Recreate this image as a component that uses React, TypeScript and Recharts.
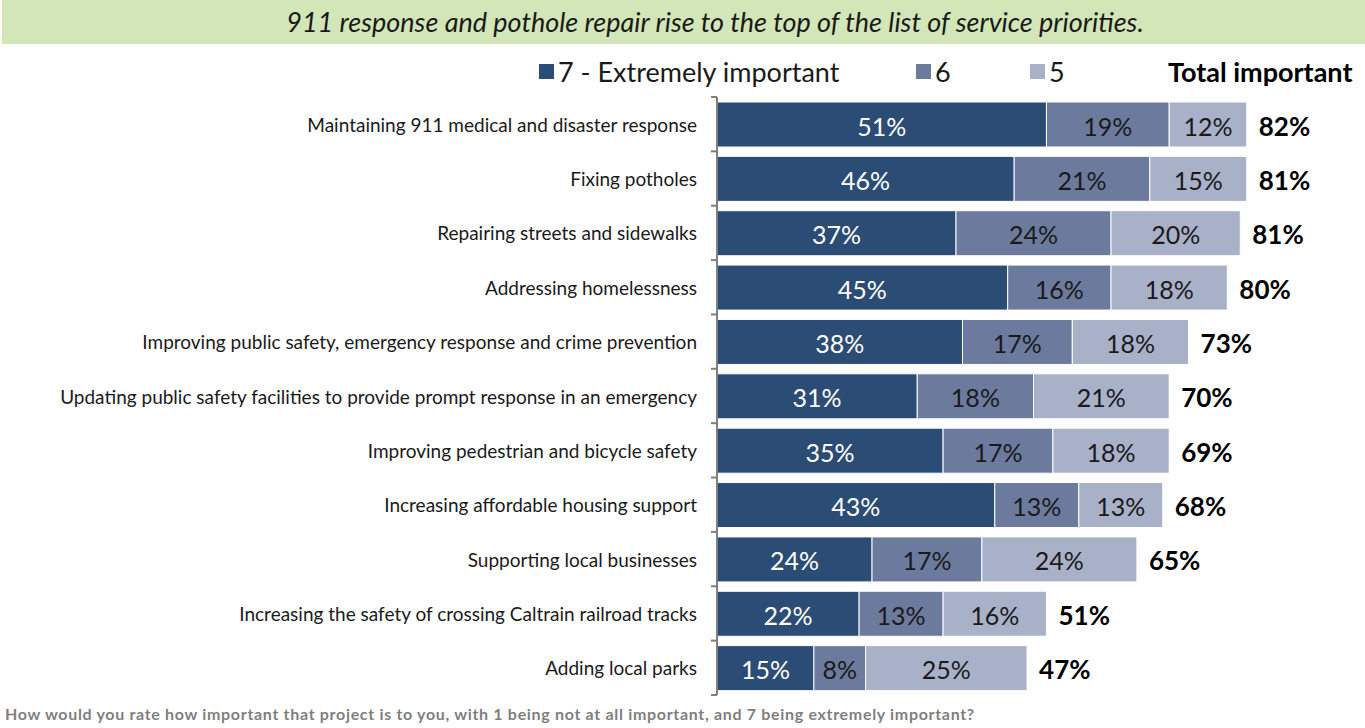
import React from "react";
import { BarChart, Bar, XAxis, YAxis, LabelList } from "recharts";

const categories = [
  "Maintaining 911 medical and disaster response",
  "Fixing potholes",
  "Repairing streets and sidewalks",
  "Addressing homelessness",
  "Improving public safety, emergency response and crime prevention",
  "Updating public safety facilities to provide prompt response in an emergency",
  "Improving pedestrian and bicycle safety",
  "Increasing affordable housing support",
  "Supporting local businesses",
  "Increasing the safety of crossing Caltrain railroad tracks",
  "Adding local parks",
];
const extremely = [51, 46, 37, 45, 38, 31, 35, 43, 24, 22, 15];
const six = [19, 21, 24, 16, 17, 18, 17, 13, 17, 13, 8];
const five = [12, 15, 20, 18, 18, 21, 18, 13, 24, 16, 25];
const totals = [82, 81, 81, 80, 73, 70, 69, 68, 65, 51, 47];

const data = categories.map((name, i) => ({
  name,
  s7: extremely[i],
  s6: six[i],
  s5: five[i],
  total: totals[i],
}));

const C7 = "#2b4c74";
const C6 = "#6c7b9d";
const C5 = "#a9b1c9";
const FONT = "Lato, 'Open Sans', sans-serif";

const W = 1365;
const H = 728;
const TOP = 97;
const BOTTOM = 33;
const AXIS_X = 717;
const PLOT_H = H - TOP - BOTTOM;
const BAND = PLOT_H / categories.length;

const YTick = (props: any) => {
  const { y, payload, index } = props;
  const ax = AXIS_X;
  return (
    <g>
      <line x1={ax - 6} x2={ax} y1={y - BAND / 2} y2={y - BAND / 2} stroke="#7f7f7f" strokeWidth={2} />
      {index === categories.length - 1 && (
        <line x1={ax - 6} x2={ax} y1={y + BAND / 2} y2={y + BAND / 2} stroke="#7f7f7f" strokeWidth={2} />
      )}
      <text
        x={ax - 20}
        y={y}
        textAnchor="end"
        dominantBaseline="central"
        fontFamily={FONT}
        fontSize={19}
        fill="#1a1a1a"
      >
        {payload.value}
      </text>
    </g>
  );
};

const pctLabel = (color: string) => (props: any) => {
  const { x, y, width, height, value } = props;
  return (
    <text
      x={x + width / 2}
      y={y + height / 2 + 1}
      textAnchor="middle"
      dominantBaseline="central"
      fontFamily={FONT}
      fontSize={25}
      fill={color}
    >
      {value}%
    </text>
  );
};

const totalLabel = (props: any) => {
  const { x, y, width, height, value } = props;
  return (
    <text
      x={x + width + 12}
      y={y + height / 2 + 1}
      textAnchor="start"
      dominantBaseline="central"
      fontFamily={FONT}
      fontSize={26}
      fontWeight="bold"
      fill="#000"
    >
      {value}%
    </text>
  );
};

const LegendItem = ({ color, label, left }: { color: string; label: string; left: number }) => (
  <div style={{ position: "absolute", left, top: 54, height: 34, display: "flex", alignItems: "center" }}>
    <div style={{ width: 15, height: 15, background: color, marginRight: 4 }} />
    <span style={{ fontFamily: FONT, fontSize: 27, color: "#1a1a1a" }}>{label}</span>
  </div>
);

export default function App() {
  return (
    <div style={{ position: "absolute", left: 0, top: 0, width: W, height: H, background: "#fff", overflow: "hidden" }}>
      <div
        style={{
          position: "absolute",
          left: 2,
          top: 0,
          width: W - 2,
          height: 44,
          background: "#d3e6b8",
          display: "flex",
          alignItems: "center",
          justifyContent: "center",
          fontFamily: FONT,
          fontStyle: "italic",
          fontSize: 27,
          color: "#1a1a1a",
        }}
      >
        <span style={{ marginLeft: 63, marginTop: -2 }}>911 response and pothole repair rise to the top of the list of service priorities.</span>
      </div>
      <LegendItem color={C7} label="7 - Extremely important" left={539} />
      <LegendItem color={C6} label="6" left={916} />
      <LegendItem color={C5} label="5" left={1030} />
      <div
        style={{
          position: "absolute",
          left: 1168,
          top: 54,
          height: 34,
          display: "flex",
          alignItems: "center",
          fontFamily: FONT,
          fontSize: 27,
          fontWeight: "bold",
          color: "#000",
        }}
      >
        Total important
      </div>
      <div style={{ position: "absolute", left: 0, top: 0 }}>
        <BarChart
          width={W}
          height={H}
          data={data}
          layout="vertical"
          margin={{ top: TOP, bottom: BOTTOM, left: 0, right: 2 }}
          barSize={45}
        >
          <XAxis type="number" domain={[0, 100]} hide />
          <YAxis
            type="category"
            dataKey="name"
            width={AXIS_X}
            axisLine={{ stroke: "#7f7f7f", strokeWidth: 2 }}
            tickLine={false}
            tick={<YTick />}
            interval={0}
          />
          <Bar dataKey="s7" stackId="a" fill={C7} stroke="#fff" strokeWidth={1} isAnimationActive={false}>
            <LabelList dataKey="s7" content={pctLabel("#ffffff")} />
          </Bar>
          <Bar dataKey="s6" stackId="a" fill={C6} stroke="#fff" strokeWidth={1} isAnimationActive={false}>
            <LabelList dataKey="s6" content={pctLabel("#1a1a1a")} />
          </Bar>
          <Bar dataKey="s5" stackId="a" fill={C5} stroke="#fff" strokeWidth={1} isAnimationActive={false}>
            <LabelList dataKey="s5" content={pctLabel("#1a1a1a")} />
            <LabelList dataKey="total" content={totalLabel} />
          </Bar>
        </BarChart>
      </div>
      <div
        style={{
          position: "absolute",
          left: 5,
          top: 704,
          fontFamily: FONT,
          fontSize: 16,
          fontWeight: "bold",
          letterSpacing: 0.68,
          color: "#7f7f7f",
        }}
      >
        How would you rate how important that project is to you, with 1 being not at all important, and 7 being extremely important?
      </div>
    </div>
  );
}
